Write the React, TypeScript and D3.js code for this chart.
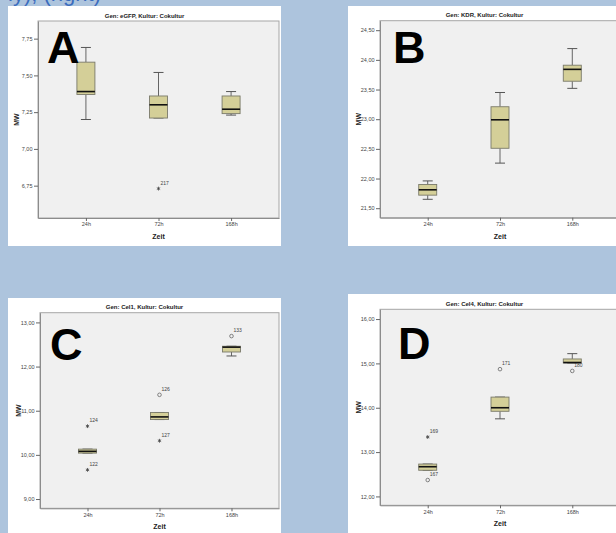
import React, { useEffect, useRef } from "react";
import * as d3 from "d3";

// X CATEGORIES
const zeit = ["24h", "72h", "168h"];

// BOX STATS PER TIME POINT: [lower whisker, Q1, median, Q3, upper whisker]
const egfpBoxes = [
  [7.2, 7.37, 7.39, 7.59, 7.69],
  [7.21, 7.21, 7.3, 7.36, 7.52],
  [7.23, 7.24, 7.27, 7.36, 7.39],
];
const egfpOutliers = [{ zeit: "72h", mw: 6.73, id: "217", extreme: true }];
const egfpTicks = [6.75, 7.0, 7.25, 7.5, 7.75];
const egfpDomain = [6.53, 7.87];

const kdrBoxes = [
  [21.65, 21.72, 21.81, 21.9, 21.96],
  [22.26, 22.51, 22.99, 23.21, 23.45],
  [23.52, 23.64, 23.84, 23.91, 24.19],
];
const kdrOutliers: { zeit: string; mw: number; id: string; extreme: boolean }[] = [];
const kdrTicks = [21.5, 22.0, 22.5, 23.0, 23.5, 24.0, 24.5];
const kdrDomain = [21.34, 24.66];

const cel1Boxes = [
  [10.04, 10.04, 10.08, 10.13, 10.13],
  [10.8, 10.8, 10.86, 10.96, 10.96],
  [12.24, 12.33, 12.44, 12.46, 12.46],
];
const cel1Outliers = [
  { zeit: "24h", mw: 10.65, id: "124", extreme: true },
  { zeit: "24h", mw: 9.66, id: "122", extreme: true },
  { zeit: "72h", mw: 11.36, id: "126", extreme: false },
  { zeit: "72h", mw: 10.32, id: "127", extreme: true },
  { zeit: "168h", mw: 12.69, id: "133", extreme: false },
];
const cel1Ticks = [9.0, 10.0, 11.0, 12.0, 13.0];
const cel1Domain = [8.79, 13.22];

const cel4Boxes = [
  [12.59, 12.59, 12.67, 12.73, 12.73],
  [13.75, 13.92, 14.0, 14.24, 14.24],
  [15.01, 15.01, 15.02, 15.1, 15.22],
];
const cel4Outliers = [
  { zeit: "24h", mw: 13.34, id: "169", extreme: true },
  { zeit: "24h", mw: 12.37, id: "167", extreme: false },
  { zeit: "72h", mw: 14.87, id: "171", extreme: false },
  { zeit: "168h", mw: 14.83, id: "180", extreme: false },
];
const cel4Ticks = [12.0, 13.0, 14.0, 15.0, 16.0];
const cel4Domain = [11.8, 16.22];

const panels = [
  { letter: "A", gen: "eGFP", boxes: egfpBoxes, outliers: egfpOutliers, ticks: egfpTicks, domain: egfpDomain },
  { letter: "B", gen: "KDR", boxes: kdrBoxes, outliers: kdrOutliers, ticks: kdrTicks, domain: kdrDomain },
  { letter: "C", gen: "Cel1", boxes: cel1Boxes, outliers: cel1Outliers, ticks: cel1Ticks, domain: cel1Domain },
  { letter: "D", gen: "Cel4", boxes: cel4Boxes, outliers: cel4Outliers, ticks: cel4Ticks, domain: cel4Domain },
];

// PANEL PLACEMENT (panel origin + plot rect inside the panel)
const layout = [
  { x: 8, y: 6, l: 30, t: 15, r: 271, b: 212, lx: 39, ly: 57 },
  { x: 348, y: 6, l: 32, t: 14.7, r: 272, b: 211.7, lx: 45, ly: 57 },
  { x: 8, y: 298, l: 32, t: 14.7, r: 271, b: 210.3, lx: 42, ly: 62 },
  { x: 348, y: 294, l: 32, t: 15.3, r: 272, b: 211.3, lx: 50, ly: 65 },
];

const FONT = "'Liberation Sans', Arial, sans-serif";
const fmt = (v: number) => d3.format(".2f")(v).replace(".", ",");

export default function App() {
  const ref = useRef<SVGSVGElement>(null);

  useEffect(() => {
    const svg = d3.select(ref.current);
    svg.selectAll("*").remove();

    //BACKGROUND
    svg.append("rect").attr("width", 616).attr("height", 533).attr("fill", "#adc4dd");

    //CUT-OFF HEADER TEXT
    svg.append("text")
      .attr("x", 101).attr("y", 0.5)
      .attr("text-anchor", "end")
      .attr("font-family", FONT).attr("font-size", 22)
      .attr("fill", "#3b6cbd")
      .text("ly), (right)");

    panels.forEach((p, i) => {
      const L = layout[i];
      const g = svg.append("g").attr("transform", `translate(${L.x},${L.y})`);

      //WHITE PANEL
      g.append("rect").attr("width", 273).attr("height", 240).attr("fill", "#ffffff");

      const x = d3.scalePoint<string>().domain(zeit).range([L.l, L.r]).padding(0.66);
      const y = d3.scaleLinear().domain(p.domain).range([L.b, L.t]);

      //PLOT AREA
      g.append("rect")
        .attr("x", L.l).attr("y", L.t)
        .attr("width", L.r - L.l).attr("height", L.b - L.t)
        .attr("fill", "#f0f0f0").attr("stroke", "#a6a6a6").attr("stroke-width", 1);

      //Y AXIS
      const yAxis = g.append("g")
        .attr("transform", `translate(${L.l},0)`)
        .call(d3.axisLeft(y).tickValues(p.ticks).tickFormat((d) => fmt(+d)).tickSize(4).tickSizeOuter(0));
      yAxis.select(".domain").attr("stroke", "#8c8c8c");
      yAxis.selectAll(".tick line").attr("stroke", "#666");
      yAxis.selectAll(".tick text")
        .attr("font-family", FONT).attr("font-size", 5.5).attr("fill", "#444").attr("x", -5.5);

      //X AXIS
      const xAxis = g.append("g")
        .attr("transform", `translate(0,${L.b})`)
        .call(d3.axisBottom(x).tickSize(3).tickSizeOuter(0));
      xAxis.select(".domain").attr("stroke", "#8c8c8c");
      xAxis.selectAll(".tick line").attr("stroke", "#666");
      xAxis.selectAll(".tick text")
        .attr("font-family", FONT).attr("font-size", 5.5).attr("fill", "#444").attr("y", 4.5);

      //TITLE + AXIS LABELS
      g.append("text")
        .attr("x", 136.5).attr("y", L.t - 3.5)
        .attr("text-anchor", "middle")
        .attr("font-family", FONT).attr("font-size", 6).attr("font-weight", "bold").attr("fill", "#222")
        .text(`Gen: ${p.gen}, Kultur: Cokultur`);
      g.append("text")
        .attr("x", x("72h")!).attr("y", L.b + 21)
        .attr("text-anchor", "middle")
        .attr("font-family", FONT).attr("font-size", 7).attr("font-weight", "bold").attr("fill", "#222")
        .text("Zeit");
      g.append("text")
        .attr("transform", `translate(${L.l - 19.5},${(L.t + L.b) / 2}) rotate(-90)`)
        .attr("text-anchor", "middle")
        .attr("font-family", FONT).attr("font-size", 7).attr("font-weight", "bold").attr("fill", "#222")
        .text("MW");

      //BOXES
      const bw = 18, cw = 10;
      const box = g.selectAll(".box").data(p.boxes).enter().append("g")
        .attr("transform", (d, j) => `translate(${x(zeit[j])},0)`);
      box.append("line")
        .attr("y1", (d) => y(d[4])).attr("y2", (d) => y(d[3]))
        .attr("stroke", "#555").attr("stroke-width", 0.9);
      box.append("line")
        .attr("y1", (d) => y(d[1])).attr("y2", (d) => y(d[0]))
        .attr("stroke", "#555").attr("stroke-width", 0.9);
      box.append("line")
        .attr("x1", -cw / 2).attr("x2", cw / 2)
        .attr("y1", (d) => y(d[4])).attr("y2", (d) => y(d[4]))
        .attr("stroke", "#555").attr("stroke-width", 1);
      box.append("line")
        .attr("x1", -cw / 2).attr("x2", cw / 2)
        .attr("y1", (d) => y(d[0])).attr("y2", (d) => y(d[0]))
        .attr("stroke", "#555").attr("stroke-width", 1);
      box.append("rect")
        .attr("x", -bw / 2).attr("width", bw)
        .attr("y", (d) => y(d[3])).attr("height", (d) => Math.max(1, y(d[1]) - y(d[3])))
        .attr("fill", "#d4cf98").attr("stroke", "#7a7a6a").attr("stroke-width", 0.9);
      box.append("line")
        .attr("x1", -bw / 2).attr("x2", bw / 2)
        .attr("y1", (d) => y(d[2])).attr("y2", (d) => y(d[2]))
        .attr("stroke", "#111").attr("stroke-width", 1.6);

      //OUTLIERS
      const out = g.selectAll(".out").data(p.outliers).enter().append("g")
        .attr("transform", (d) => `translate(${x(d.zeit)},${y(d.mw)})`);
      out.filter((d) => !d.extreme).append("circle")
        .attr("r", 1.8).attr("fill", "none").attr("stroke", "#555").attr("stroke-width", 0.7);
      out.filter((d) => d.extreme).append("path")
        .attr("d", d3.symbol(d3.symbolAsterisk, 10)())
        .attr("fill", "none").attr("stroke", "#444").attr("stroke-width", 0.8);
      out.append("text")
        .attr("x", 2).attr("y", -4)
        .attr("font-family", FONT).attr("font-size", 5).attr("fill", "#444")
        .text((d) => d.id);

      //PANEL LETTER
      g.append("text")
        .attr("x", L.lx).attr("y", L.ly)
        .attr("font-family", FONT).attr("font-size", 45).attr("font-weight", "bold").attr("fill", "#000")
        .text(p.letter);
    });
  }, []);

  return (
    <svg ref={ref} width={616} height={533} style={{ position: "absolute", left: 0, top: 0 }} />
  );
}
